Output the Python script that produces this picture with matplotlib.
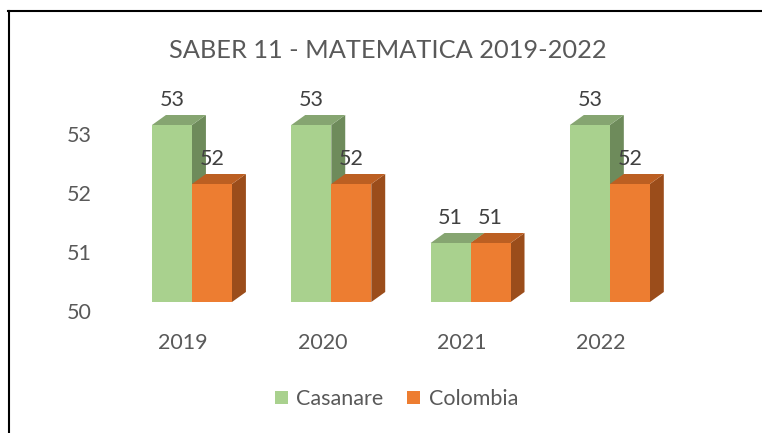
import matplotlib
matplotlib.use("Agg")
import matplotlib.pyplot as plt
from matplotlib.patches import Polygon, Rectangle
from matplotlib.lines import Line2D
from matplotlib.transforms import ScaledTranslation

years = ["2019", "2020", "2021", "2022"]
casanare = [53, 53, 51, 53]
colombia = [52, 52, 51, 52]
series_names = ["Casanare", "Colombia"]
yticks = [50, 51, 52, 53]

plt.rcParams['font.family'] = ['Lato', 'DejaVu Sans']
TXT = "#595959"
FS = 15.5

W, H = 762, 433
fig = plt.figure(figsize=(W / 100, H / 100), dpi=100)

# axes mapping: x=-1 -> 52.7px, x=4 -> 749.2px; y=50 -> 302px(top), y=55 -> 7px
ax_left = 52.7 / W
ax_w = (749.2 - 52.7) / W
ax_bottom = (H - 302) / H
ax_h = 295 / H
ax = fig.add_axes([ax_left, ax_bottom, ax_w, ax_h])
ax.set_xlim(-1, 4)
ax.set_ylim(50, 55)
for s in ax.spines.values():
    s.set_visible(False)

bw = 0.287
dx = 0.10
dy = 10 / 59.0

styles = [
    dict(front="#A9D18E", top="#86A571", side="#6E8B5B"),
    dict(front="#ED7D31", top="#BC5F22", side="#9B4D1B"),
]

z = 1
for i in range(len(years)):
    for k, vals in enumerate([casanare, colombia]):
        v = vals[i]
        x0 = i - bw if k == 0 else i
        st = styles[k]
        ax.add_patch(Polygon([(x0 + bw, 50), (x0 + bw + dx, 50 + dy), (x0 + bw + dx, v + dy), (x0 + bw, v)],
                             closed=True, facecolor=st["side"], edgecolor="none", zorder=z))
        ax.add_patch(Polygon([(x0, v), (x0 + dx, v + dy), (x0 + bw + dx, v + dy), (x0 + bw, v)],
                             closed=True, facecolor=st["top"], edgecolor="none", zorder=z + 1))
        ax.bar(x0, v - 50, width=bw, bottom=50, align="edge", color=st["front"], edgecolor="none", zorder=z + 2)
        ax.annotate(str(v), (x0 + bw / 2, v), xytext=(0, 18), textcoords="offset points",
                    ha="center", va="center", fontsize=FS, color="#404040", zorder=20)
        z += 3

ax.set_yticks(yticks)
ax.set_yticklabels([str(t) for t in yticks])
ax.tick_params(axis="y", length=0, pad=-28, labelsize=FS, labelcolor=TXT)
for lab in ax.get_yticklabels():
    lab.set_transform(lab.get_transform() + ScaledTranslation(0, -9 / 100, fig.dpi_scale_trans))

ax.set_xticks(range(len(years)))
ax.set_xticklabels(years)
ax.tick_params(axis="x", length=0, pad=22, labelsize=FS, labelcolor=TXT)
for lab in ax.get_xticklabels():
    lab.set_transform(lab.get_transform() + ScaledTranslation(-9 / 100, 0, fig.dpi_scale_trans))

fig.text(388 / W, 1 - 50 / H, "SABER 11 - MATEMATICA 2019-2022", ha="center", va="center",
         fontsize=18.3, color=TXT)

handles = [Rectangle((0, 0), 1, 1, facecolor=styles[0]["front"]),
           Rectangle((0, 0), 1, 1, facecolor=styles[1]["front"])]
fig.legend(handles, series_names, loc="center", bbox_to_anchor=(396.5 / W, 34 / H), ncol=2,
           frameon=False, fontsize=FS, labelcolor=TXT, handlelength=0.6, handleheight=0.6,
           handletextpad=0.4, columnspacing=1.1)

fig.add_artist(Line2D([8 / W, 1.0], [1 - 11 / H, 1 - 11 / H], color="black", lw=1.5))
fig.add_artist(Line2D([9 / W, 9 / W], [1 - 11 / H, 0], color="black", lw=1.5))

fig.savefig("out.png", dpi=100)
